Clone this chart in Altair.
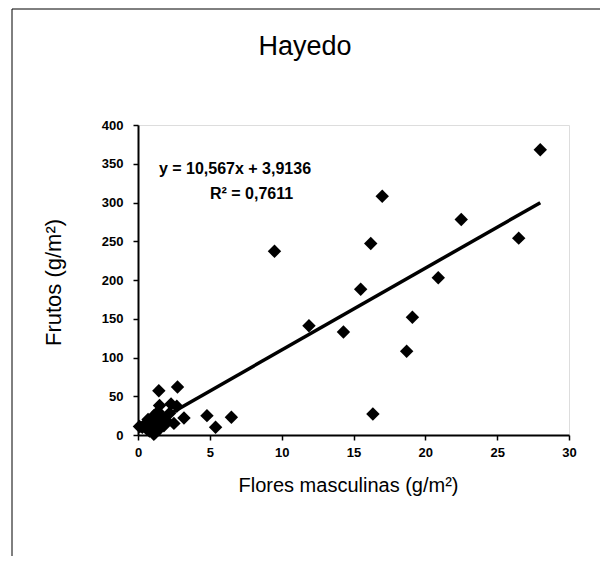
import altair as alt
import pandas as pd

# Flores masculinas (g/m2) vs Frutos (g/m2)
flores = [0.1, 0.3, 0.5, 0.6, 0.7, 0.8, 0.9, 1.0, 1.1, 1.1, 1.2, 1.3, 1.4, 1.5, 1.5, 1.7,
          1.8, 2.0, 2.2, 2.3, 2.5, 2.7, 1.45, 2.75, 3.2, 4.8, 5.4, 6.5,
          9.5, 11.9, 14.3, 15.5, 16.2, 16.35, 17.0, 18.7, 19.1, 20.9, 22.5, 26.5, 28.0]
frutos = [11, 10, 14, 8, 20, 5, 18, 12, 25, 1, 3, 15, 30, 38, 8, 22,
          12, 18, 28, 40, 15, 37, 57, 62, 22, 25, 10, 23,
          237, 141, 133, 188, 247, 27, 308, 108, 152, 203, 278, 254, 368]

slope = 10.567
intercept = 3.9136
eq_lines = ["y = 10,567x + 3,9136", "R² = 0,7611"]
eq_x = [6.75, 7.9]
eq_y = [343, 311]

x_ticks = [0, 5, 10, 15, 20, 25, 30]
y_ticks = [0, 50, 100, 150, 200, 250, 300, 350, 400]
title_text = ["Hayedo"]

df = pd.DataFrame({"x": flores, "y": frutos})
line_df = pd.DataFrame({"x": [min(flores), max(flores)]})
line_df["y"] = slope * line_df["x"] + intercept
eq_df = pd.DataFrame({"t": eq_lines, "x": eq_x, "y": eq_y})

FONT = "Liberation Sans"
xs = alt.Scale(domain=[0, 30], nice=False, zero=True)
ys = alt.Scale(domain=[0, 400], nice=False, zero=True)

xaxis = alt.Axis(title="Flores masculinas (g/m²)", values=x_ticks, grid=False,
                 domainColor="black", domainWidth=2, tickColor="black", tickWidth=1.5,
                 tickSize=5, labelFont=FONT, labelFontWeight="bold", labelFontSize=13,
                 labelColor="black", labelPadding=6, labelOverlap=False,
                 titleFont=FONT, titleFontSize=20,
                 titleFontWeight="normal", titleColor="black",
                 titleX=210, titleY=50, titleAlign="center", titleBaseline="middle",
                 labelFlush=False)
yaxis = alt.Axis(title="Frutos  (g/m²)", values=y_ticks, grid=False,
                 domainColor="black", domainWidth=2, tickColor="black", tickWidth=1.5,
                 tickSize=5, labelFont=FONT, labelFontWeight="bold", labelFontSize=13,
                 labelColor="black", labelPadding=10, labelOverlap=False,
                 titleFont=FONT, titleFontSize=22,
                 titleFontWeight="normal", titleColor="black",
                 titleX=-85, titleY=157, titleAngle=270, titleAlign="center",
                 titleBaseline="middle",
                 labelFlush=False)

X = alt.X("x:Q", scale=xs, axis=xaxis)
Y = alt.Y("y:Q", scale=ys, axis=yaxis)

points = alt.Chart(df).mark_point(shape="diamond", filled=True, color="black",
                                  size=180, opacity=1).encode(x=X, y=Y)

trend = alt.Chart(line_df).mark_line(color="black", strokeWidth=3.5).encode(x=X, y=Y)

eq = alt.Chart(eq_df).mark_text(font=FONT, fontSize=16, fontWeight="bold",
                                color="black", align="center", baseline="middle").encode(
    x=X, y=Y, text="t:N")

title = alt.Chart(pd.DataFrame({"t": title_text})).mark_text(
    font=FONT, fontSize=27, color="black", align="center", baseline="middle").encode(
    x=alt.value(167), y=alt.value(-78), text="t:N")

frame_df = pd.DataFrame({"k": [0]})
frame_top = alt.Chart(frame_df).mark_rule(color="black", strokeWidth=1).encode(
    x=alt.value(-126), x2=alt.value(462), y=alt.value(-116), y2=alt.value(-116))
frame_left = alt.Chart(frame_df).mark_rule(color="black", strokeWidth=1).encode(
    x=alt.value(-126), x2=alt.value(-126), y=alt.value(-116), y2=alt.value(431))

chart = alt.layer(points, trend, eq, title, frame_top, frame_left).properties(
    width=431, height=310,
    autosize=alt.AutoSizeParams(type="none"),
    padding={"left": 130, "top": 117, "right": 31, "bottom": 121},
).configure_view(stroke="black", strokeWidth=1).configure(background="white")

chart.save("out.html", embed_options={"renderer": "svg", "actions": False})
